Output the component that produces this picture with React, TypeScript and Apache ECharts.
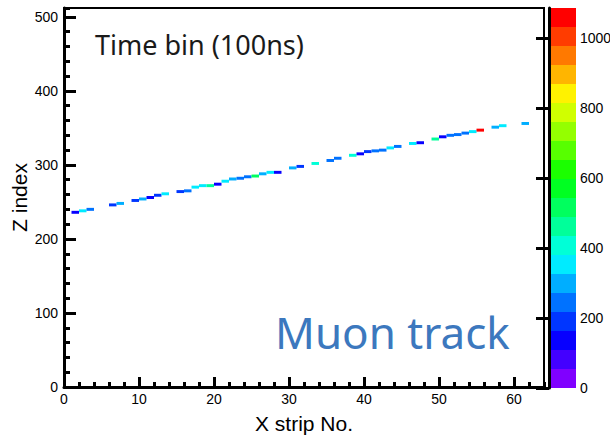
import React, { useEffect, useRef } from "react";
import * as echarts from "echarts";

// X strip number of each hit cell
const xStrips = [1, 2, 3, 6, 7, 9, 10, 11, 12, 13, 15, 16, 17, 18, 19, 20, 21, 22, 23, 24, 25, 26, 27, 28, 30, 31, 33, 35, 36, 38, 39, 40, 41, 42, 43, 44, 46, 47, 49, 50, 51, 52, 53, 54, 55, 57, 58, 61];
// Z index (centre) of each hit cell
const zIndex = [236, 238, 240, 246, 248, 252, 254, 256, 259, 261, 264, 265, 270, 272, 272, 274, 278, 281, 282, 284, 285, 288, 290, 290, 296, 298, 302, 306, 309, 313, 315, 318, 319, 320, 323, 325, 329, 330, 335, 338, 340, 341, 343, 345, 347, 351, 353, 356];
// Time bin content (100 ns) of each hit cell
const timeBins = [150, 350, 240, 190, 300, 200, 320, 140, 200, 360, 195, 250, 370, 350, 460, 150, 360, 300, 250, 270, 510, 310, 360, 150, 300, 190, 400, 240, 260, 390, 140, 180, 240, 260, 350, 260, 340, 150, 460, 140, 240, 260, 250, 340, 1080, 300, 350, 300];

const xMax = 64;
const zMax = 512;
const colorMax = 1086;
const nLevels = 20;
const xTicks = 10;
const zTicks = 100;
const colorTicks = 200;

const palette = [
  "#8000ff", "#4300ff", "#0700ff", "#0036ff", "#0072ff",
  "#00aeff", "#00ebff", "#00ffd7", "#00ff9a", "#00ff5e",
  "#00ff22", "#1bff00", "#57ff00", "#94ff00", "#d0ff00",
  "#fff200", "#ffb500", "#ff7900", "#ff3c00", "#ff0000",
];

const levelOf = (v: number) => Math.min(nLevels - 1, Math.max(0, Math.floor(v / (colorMax / nLevels))));

const FONT = "Liberation Sans, Arial, sans-serif";

export default function App() {
  const ref = useRef<HTMLDivElement>(null);
  useEffect(() => {
    if (!ref.current) return;
    const chart = echarts.init(ref.current, null, { renderer: "svg" });
    const cells = xStrips.map((x, i) => [x, zIndex[i], timeBins[i]]);
    const levels = palette.map((_, k) => [k * (colorMax / nLevels), (k + 1) * (colorMax / nLevels), k]);

    const axisLine = { show: true, lineStyle: { color: "#000", width: 3 } };
    const tickStyle = { color: "#000", width: 3 };
    const label = { color: "#000", fontSize: 14, fontFamily: FONT, formatter: (v: number) => String(v) };

    chart.setOption({
      animation: false,
      backgroundColor: "#fff",
      grid: [
        { left: 64, top: 8, width: 480, height: 379, show: true, borderColor: "#000", borderWidth: 2, backgroundColor: "transparent", containLabel: false, outerBoundsMode: "none" },
        { left: 549, top: 8, width: 27, height: 380, show: false, containLabel: false, outerBoundsMode: "none" },
      ],
      xAxis: [
        {
          type: "value", gridIndex: 0, min: 0, max: xMax, interval: xTicks, position: "bottom",
          axisLine, splitLine: { show: false },
          axisTick: { show: true, inside: true, length: 10, lineStyle: tickStyle },
          axisLabel: { ...label, margin: 5, showMaxLabel: false },
          name: "X strip No.", nameLocation: "middle", nameGap: 26, nameMoveOverlap: false,
          nameTextStyle: { color: "#000", fontSize: 21, fontFamily: FONT },
          z: 5,
        },
        {
          type: "value", gridIndex: 0, min: 0, max: xMax, interval: 2, position: "bottom",
          axisLine: { show: false }, splitLine: { show: false },
          axisTick: { show: true, inside: true, length: 5, lineStyle: tickStyle },
          axisLabel: { show: false },
          z: 5,
        },
        { type: "value", gridIndex: 1, min: 0, max: 1, show: false },
      ],
      yAxis: [
        {
          type: "value", gridIndex: 0, min: 0, max: zMax, interval: zTicks, position: "left",
          axisLine, splitLine: { show: false },
          axisTick: { show: true, inside: true, length: 12, lineStyle: tickStyle },
          axisLabel: { ...label, margin: 6, showMaxLabel: false },
          name: "Z index", nameLocation: "middle", nameGap: 34, nameMoveOverlap: false,
          nameTextStyle: { color: "#000", fontSize: 21, fontFamily: FONT },
          z: 5,
        },
        {
          type: "value", gridIndex: 0, min: 0, max: zMax, interval: 20, position: "left",
          axisLine: { show: false }, splitLine: { show: false },
          axisTick: { show: true, inside: true, length: 6, lineStyle: tickStyle },
          axisLabel: { show: false },
          z: 5,
        },
        {
          type: "value", gridIndex: 1, min: 0, max: colorMax, interval: colorTicks, position: "right",
          axisLine: { show: true, lineStyle: { color: "#000", width: 3 } }, splitLine: { show: false },
          axisTick: { show: true, inside: true, length: 13, lineStyle: tickStyle },
          axisLabel: { ...label, margin: 4, showMaxLabel: false },
          z: 5,
        },
      ],
      series: [
        {
          type: "custom",
          xAxisIndex: 0, yAxisIndex: 0,
          data: cells,
          encode: { x: 0, y: 1 },
          renderItem: (_p: any, api: any) => {
            const x = api.value(0), z = api.value(1), v = api.value(2);
            const a = api.coord([x, z + 2]);
            const b = api.coord([x + 1, z - 2]);
            return {
              type: "rect",
              shape: { x: a[0], y: a[1], width: b[0] - a[0], height: b[1] - a[1] },
              style: { fill: palette[levelOf(v)] },
            };
          },
        },
        {
          type: "custom",
          xAxisIndex: 2, yAxisIndex: 2,
          data: levels,
          encode: { y: [0, 1] },
          renderItem: (_p: any, api: any) => {
            const lo = api.value(0), hi = api.value(1), k = api.value(2);
            const a = api.coord([0, hi]);
            const b = api.coord([1, lo]);
            return {
              type: "rect",
              shape: { x: a[0], y: a[1], width: b[0] - a[0], height: b[1] - a[1] },
              style: { fill: palette[k] },
            };
          },
          z: 1,
        },
      ],
      graphic: [
        {
          type: "text", x: 95, y: 44,
          style: { text: "Time bin (100ns)", fill: "#1a1a1a", fontSize: 27, fontFamily: "Noto Sans, sans-serif", verticalAlign: "middle" },
        },
        {
          type: "text", x: 275, y: 332,
          style: { text: "Muon track", fill: "#3c78be", fontSize: 44, fontFamily: "Noto Sans, sans-serif", verticalAlign: "middle" },
        },
      ],
    });
    return () => chart.dispose();
  }, []);
  return <div ref={ref} style={{ position: "fixed", left: 0, top: 0, width: 610, height: 436 }} />;
}
